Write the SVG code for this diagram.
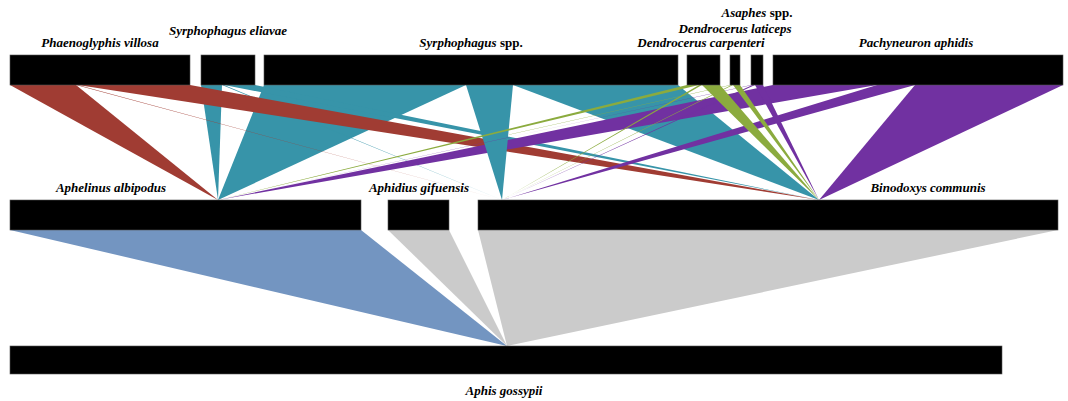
<svg xmlns="http://www.w3.org/2000/svg" width="1068" height="401" viewBox="0 0 1068 401">
<style>
.bar{fill:#000;stroke:#555;stroke-width:0.6}
.lbl{font-family:"Liberation Serif","Times New Roman",serif;font-size:13px;font-weight:bold;font-style:italic;fill:#000;text-anchor:middle}
.up{font-style:normal}
.red{fill:#a03c33}
.teal{fill:#3794a9}
.green{fill:#8bab3e}
.purple{fill:#7131a1}
.blue{fill:#7395c1}
.grey{fill:#cbcbcb}
</style>
<rect width="1068" height="401" fill="#fff"/>
<g id="connectors">
  <!-- Syrphophagus spp. (teal) -->
  <polygon class="teal" points="264,85 466,85 218,200"/>
  <polygon class="teal" points="513,85 678,85 819,200"/>
  <!-- Syrphophagus eliavae (teal) -->
  <polygon class="teal" points="201,85 222,85 218,200"/>
  <polygon class="teal" points="222,85 224,85 502,200"/>
  <polygon class="teal" points="224,85 255,85 819,200"/>
  <!-- Phaenoglyphis villosa (red) -->
  <polygon class="red" points="10,85 76,85 218,200"/>
  <polygon class="red" points="76,85 78,85 502,200"/>
  <polygon class="red" points="78,85 190,85 819,200"/>
  <!-- Pachyneuron aphidis (purple) -->
  <polygon class="purple" points="773,85 877,85 218,200"/>
  <polygon class="purple" points="877,85 915,85 502,200"/>
  <polygon class="purple" points="915,85 1063,85 819,200"/>
  <!-- Syrphophagus spp. to Aphidius gifuensis -->
  <polygon class="teal" points="466,85 513,85 502,200"/>
  <!-- Asaphes spp. (purple) -->
  <polygon class="purple" points="751,85 752.5,85 218,200"/>
  <polygon class="purple" points="752.5,85 755,85 502,200"/>
  <polygon class="purple" points="755,85 763,85 819,200"/>
  <!-- Dendrocerus carpenteri (green) -->
  <polygon class="green" points="687,85 699,85 218,200"/>
  <polygon class="green" points="699,85 702,85 502,200"/>
  <polygon class="green" points="702,85 720,85 819,200"/>
  <!-- Dendrocerus laticeps (green) -->
  <polygon class="green" points="730,85 731.5,85 218,200"/>
  <polygon class="green" points="731.5,85 733,85 502,200"/>
  <polygon class="green" points="733,85 740,85 819,200"/>
  <!-- parasitoids to aphid -->
  <polygon class="blue" points="10,230 361,230 507,346"/>
  <polygon class="grey" points="388,230 449,230 507,346"/>
  <polygon class="grey" points="478,230 1058,230 507,346"/>
</g>
<g id="phaenoglyphis-villosa">
  <rect class="bar" x="10" y="55" width="180" height="30"/>
  <text class="lbl" x="100" y="47">Phaenoglyphis villosa</text>
</g>
<g id="syrphophagus-eliavae">
  <rect class="bar" x="201" y="55" width="54" height="30"/>
  <text class="lbl" x="228" y="35">Syrphophagus eliavae</text>
</g>
<g id="syrphophagus-spp">
  <rect class="bar" x="264" y="55" width="414" height="30"/>
  <text class="lbl" x="471" y="47">Syrphophagus<tspan class="up"> spp.</tspan></text>
</g>
<g id="dendrocerus-carpenteri">
  <rect class="bar" x="687" y="55" width="33" height="30"/>
  <text class="lbl" x="701" y="47">Dendrocerus carpenteri</text>
</g>
<g id="dendrocerus-laticeps">
  <rect class="bar" x="730" y="55" width="10" height="30"/>
  <text class="lbl" x="735" y="33">Dendrocerus laticeps</text>
</g>
<g id="asaphes-spp">
  <rect class="bar" x="751" y="55" width="12" height="30"/>
  <text class="lbl" x="757" y="17">Asaphes<tspan class="up"> spp.</tspan></text>
</g>
<g id="pachyneuron-aphidis">
  <rect class="bar" x="773" y="55" width="290" height="30"/>
  <text class="lbl" x="916" y="47">Pachyneuron aphidis</text>
</g>
<g id="aphelinus-albipodus">
  <rect class="bar" x="10" y="200" width="351" height="30"/>
  <text class="lbl" x="111" y="192">Aphelinus albipodus</text>
</g>
<g id="aphidius-gifuensis">
  <rect class="bar" x="388" y="200" width="61" height="30"/>
  <text class="lbl" x="419" y="192">Aphidius gifuensis</text>
</g>
<g id="binodoxys-communis">
  <rect class="bar" x="478" y="200" width="580" height="30"/>
  <text class="lbl" x="928" y="192">Binodoxys communis</text>
</g>
<g id="aphis-gossypii">
  <rect class="bar" x="10" y="346" width="992" height="28"/>
  <text class="lbl" x="504" y="395">Aphis gossypii</text>
</g>
</svg>
